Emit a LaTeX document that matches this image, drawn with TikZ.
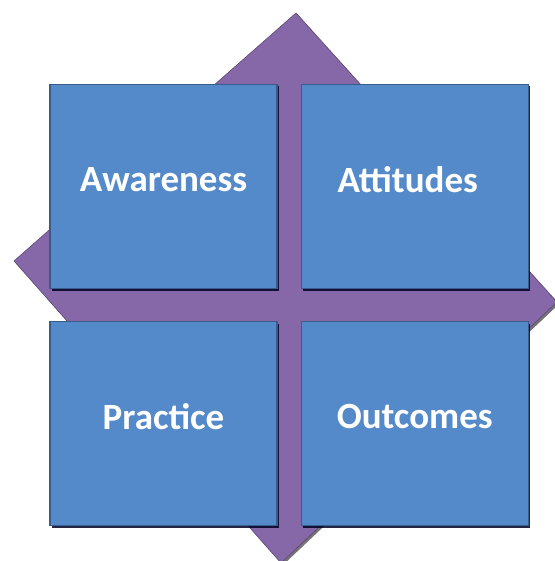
\documentclass[tikz,border=0pt]{standalone}
\usepackage{fontspec}
\setmainfont{Carlito}
\usepackage{xcolor}
\definecolor{quadblue}{RGB}{84,138,202}
\definecolor{quadedge}{RGB}{56,93,138}
\definecolor{diampurple}{RGB}{134,104,168}
\usepackage{tikz}
\usetikzlibrary{positioning,shadows}

\begin{document}
\begin{tikzpicture}[x=1pt, y=-1pt, quad/.style={
					rectangle, minimum width = 227pt, minimum height = 204pt, inner sep = 0pt,
					draw = quadedge, line width = 1.2pt, fill = quadblue, text = white,
					font = \fontsize{37}{44}\selectfont\bfseries, text depth = 14pt,
					drop shadow = {shadow xshift = 2pt, shadow yshift = -2pt, fill = black!85!blue, opacity = 0.85}}]
		\useasboundingbox (0,0) rectangle (554,561);
		% purple diamond behind the four squares
		\coordinate (N) at (296,13);
		\coordinate (E) at (557,302);
		\coordinate (S) at (281,563);
		\coordinate (W) at (14,261);
		\fill [black, opacity = 0.55] ([shift={(2,2)}]N) -- ([shift={(2,2)}]E) -- ([shift={(2,2)}]S) -- ([shift={(2,2)}]W) -- cycle;
		\draw [diampurple!70!black, fill = diampurple, line width = 0.6pt] (N) -- (E) -- (S) -- (W) -- cycle;
		\node (A) [quad] at (163.5,186.5) {Awareness};
		\node (AA) [quad, right=23pt of A] {\hspace*{-14pt}Attitudes};
		\node (C) [quad, below=32pt of A] {Practice};
		\node (CC) [quad, right=23pt of C] {Outcomes};
	\end{tikzpicture}
\end{document}
